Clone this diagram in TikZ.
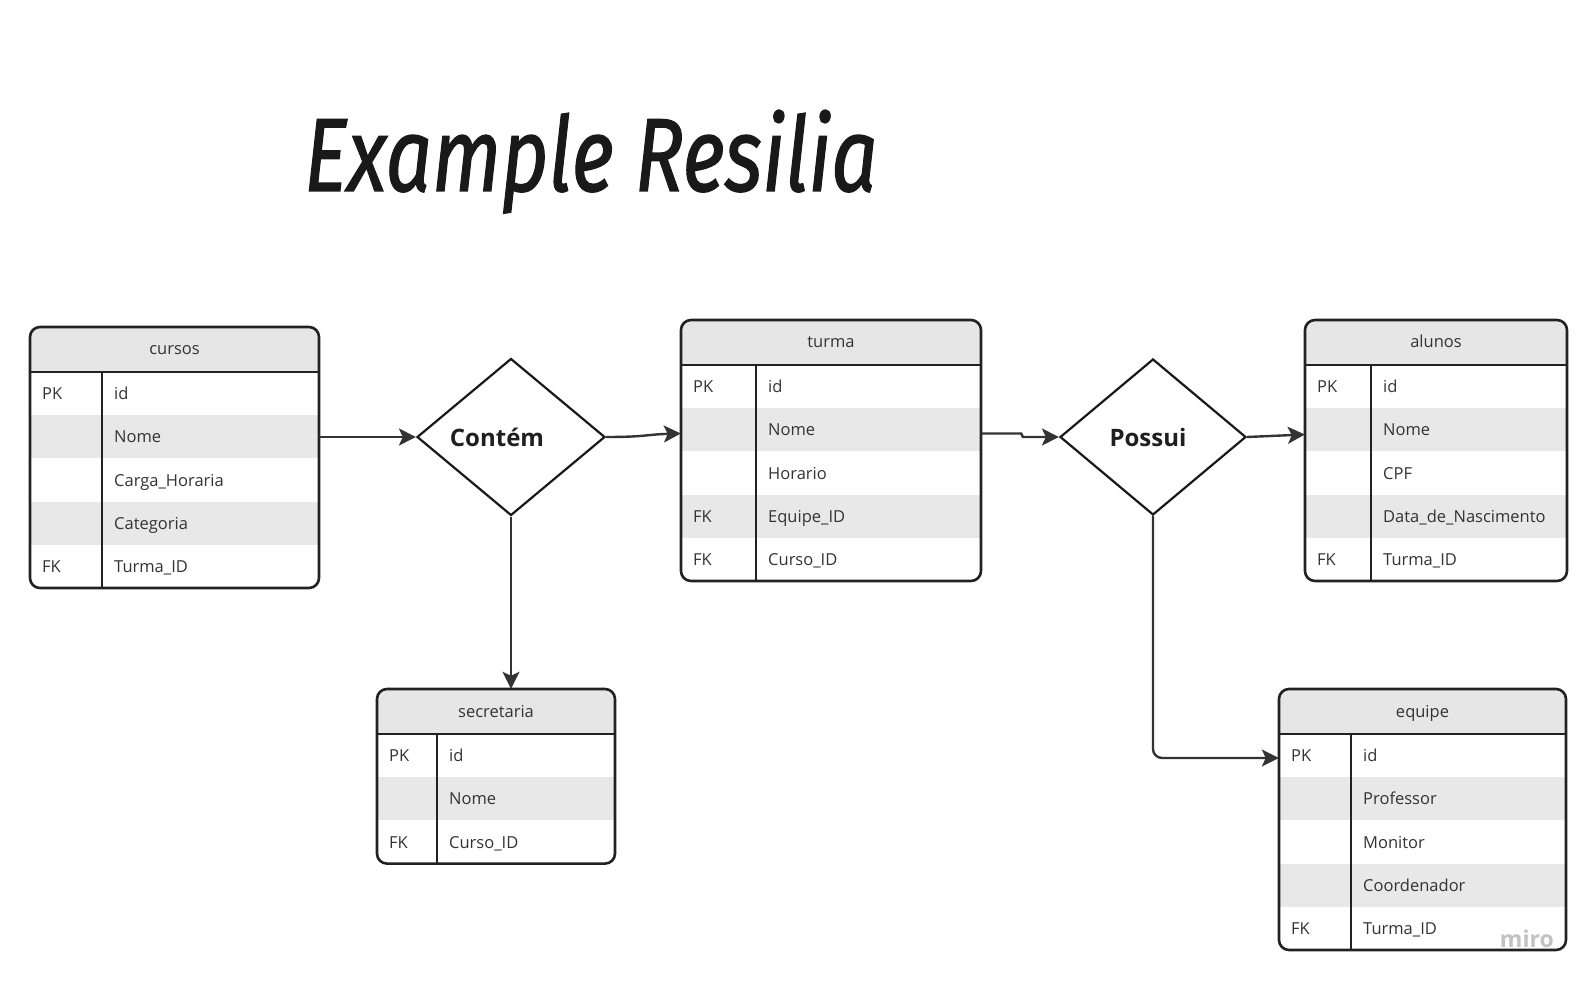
\documentclass[tikz,border=0pt]{standalone}
\usepackage{fontspec}
\usepackage{graphicx}
\setmainfont{Open Sans}
\newfontfamily\titlefont[ItalicFeatures={FakeBold=1.3}]{Fira Sans}
\usetikzlibrary{shapes.geometric,arrows.meta,fit}
\definecolor{txtc}{HTML}{333333}
\definecolor{hdrc}{HTML}{E6E6E6}
\definecolor{rowc}{HTML}{E8E8E8}
\definecolor{edgec}{HTML}{222222}
\definecolor{connc}{HTML}{333333}
\definecolor{miroc}{HTML}{C2C2C2}
\tikzset{
  tbltxt/.style={text=txtc, inner sep=0pt, font=\fontsize{16.5}{20}\selectfont},
  tline/.style={draw=edgec, line width=2.6pt},
  dline/.style={draw=edgec, line width=2.3pt},
  conn/.style={draw=connc, line width=2.4pt, -{Stealth[length=17pt,width=17pt,inset=4pt]}},
  relshape/.style={diamond, draw=black!90, line width=2.2pt, inner sep=0pt, aspect=1.2},
  reltxt/.style={text=black!88, inner sep=0pt, font=\fontsize{24}{28}\selectfont\bfseries},
}
% #1 name, #2 left, #3 top, #4 right, #5 divider x, #6 title, #7 number of rows, #8 rows
\newcommand\ertable[8]{%
  \pgfmathsetmacro\erbot{#3+45+#7*43.2}
  \begin{scope}
    \clip[rounded corners=10pt] (#2,#3) rectangle (#4,\erbot);
    \fill[white] (#2,#3) rectangle (#4,\erbot);
    \fill[hdrc] (#2,#3) rectangle (#4,{#3+45});
    \foreach \k/\f [count=\i] in {#8} {
      \pgfmathsetmacro\rt{#3+45+(\i-1)*43.2}
      \ifodd\i\else\fill[rowc] (#2,\rt) rectangle (#4,{\rt+43.2});\fi
    }
  \end{scope}
  \foreach \k/\f [count=\i] in {#8} {
    \pgfmathsetmacro\rc{#3+45+(\i-1)*43.2+21.6+6}
    \node[tbltxt, anchor=base west] (#1-k\i) at ({#2+12},\rc) {\k};
    \node[tbltxt, anchor=base west] (#1-f\i) at ({#5+12},\rc) {\f};
  }
  \draw[tline] (#2,{#3+45}) -- (#4,{#3+45});
  \draw[dline] (#5,{#3+45}) -- (#5,\erbot);
  \draw[tline, rounded corners=10pt] (#2,#3) rectangle (#4,\erbot);
  \node[tbltxt, anchor=base] (#1-title) at ({(#2+#4)/2},{#3+28}) {#6};
  \node[fit={(#2,#3) (#4,\erbot)}, inner sep=0pt] (#1) {};
}
\begin{document}
\begin{tikzpicture}[x=1pt,y=-1pt]
\fill[white] (0,0) rectangle (1591,981);
\useasboundingbox (0,0) rectangle (1591,981);

% title
\node[anchor=base west, inner sep=0pt, text=black!90] (title) at (304,191)
  {\resizebox{573pt}{81pt}{\titlefont\itshape Example Resilia}};

% tables
\ertable{cursos}{30}{327}{319}{102}{cursos}{5}{PK/id, /Nome, /Carga\_Horaria, /Categoria, FK/Turma\_ID}
\ertable{turma}{681}{320}{981}{756}{turma}{5}{PK/id, /Nome, /Horario, FK/Equipe\_ID, FK/Curso\_ID}
\ertable{alunos}{1305}{320}{1567}{1371}{alunos}{5}{PK/id, /Nome, /CPF, /Data\_de\_Nascimento, FK/Turma\_ID}
\ertable{secretaria}{377}{689}{615}{437}{secretaria}{3}{PK/id, /Nome, FK/Curso\_ID}
\ertable{equipe}{1279}{689}{1566}{1351}{equipe}{5}{PK/id, /Professor, /Monitor, /Coordenador, FK/Turma\_ID}

% relationships
\node[relshape, minimum width=188pt, minimum height=157pt] (contem) at (511,437) {};
\node[reltxt, anchor=base] (contemlbl) at (497,447) {Contém};
\node[relshape, minimum width=186pt, minimum height=156pt] (possui) at (1153,437) {};
\node[reltxt, anchor=base] (possuilbl) at (1148,447) {Possui};

% connectors
\draw[conn] (contem.west -| cursos.east) -- (contem.west);
\draw[conn] (contem.east) .. controls +(40,0) and +(-35,1) .. ([yshift=17pt]turma.west);
\draw[conn] ([yshift=17pt]turma.east) -- +(40,0) -- ([xshift=-36pt]possui.west) -- (possui.west);
\draw[conn] (possui.east) -- ([yshift=16pt]alunos.west);
\draw[conn] (contem.south) -- (contem.south |- secretaria.north);
\draw[conn, rounded corners=9pt] (possui.south) |- ([yshift=61.5pt]equipe.west);

% watermark
\node[anchor=base east, inner sep=0pt, text=miroc, font=\fontsize{23}{26}\selectfont\bfseries] (miro) at (1554,947) {miro};
\end{tikzpicture}
\end{document}
